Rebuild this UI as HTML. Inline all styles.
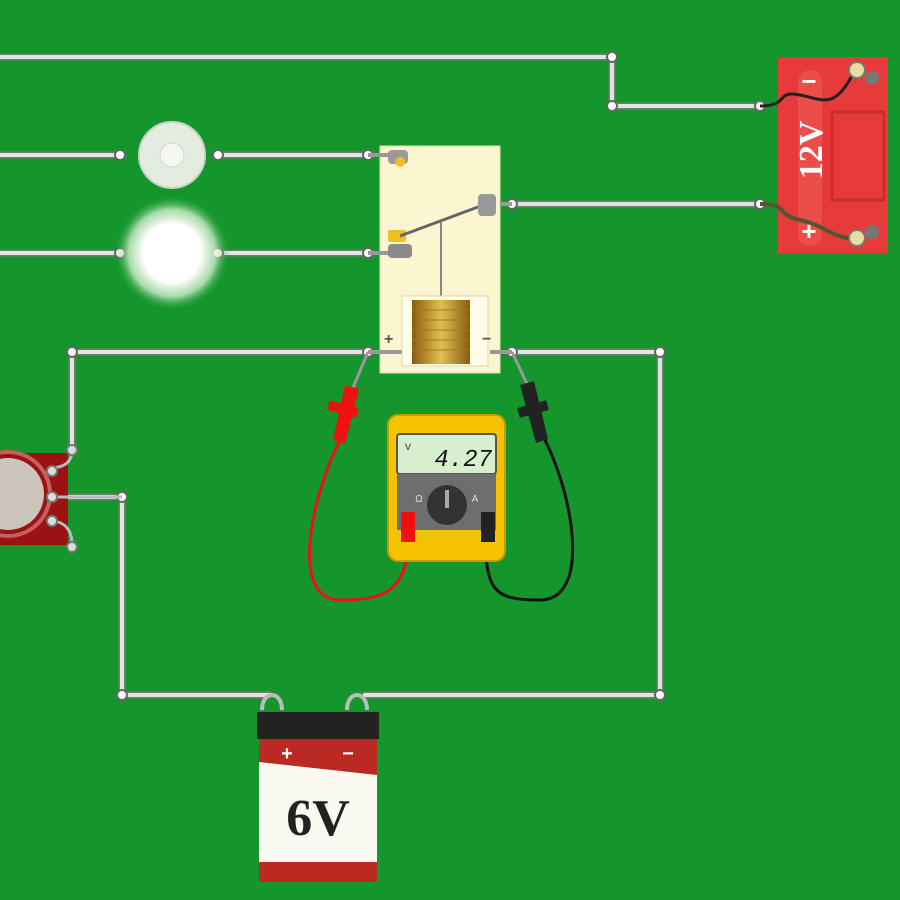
<!DOCTYPE html>
<html><head><meta charset="utf-8"><style>html,body{margin:0;padding:0;background:#14962c}svg{display:block}</style></head>
<body>
<svg width="900" height="900" viewBox="0 0 900 900" xmlns="http://www.w3.org/2000/svg">
<defs>
<radialGradient id="glow" cx="50%" cy="50%" r="50%">
<stop offset="0" stop-color="#fff"/><stop offset="0.5" stop-color="#fff"/><stop offset="0.75" stop-color="#e8f8e0" stop-opacity="0.7"/><stop offset="1" stop-color="#14962c" stop-opacity="0"/>
</radialGradient>
<linearGradient id="coil" x1="0" x2="1"><stop offset="0" stop-color="#8a5a10"/><stop offset="0.5" stop-color="#e0c050"/><stop offset="1" stop-color="#8a5a10"/></linearGradient>
</defs>
<rect width="900" height="900" fill="#14962c"/>
<g fill="none" stroke-linejoin="round" stroke-linecap="round">
<g stroke="#6f7f70" stroke-width="7">
<path d="M0 57H612V106H760"/>
<path d="M0 155H120M218 155H368"/>
<path d="M0 253H120M218 253H368"/>
<path d="M512 204H760"/>
<path d="M368 352H72V450"/>
<path d="M512 352H660V695H365"/>
<path d="M270 695H122V497H50"/>
</g>
<g stroke="#e2e4e2" stroke-width="4">
<path d="M0 57H612V106H760"/>
<path d="M0 155H120M218 155H368"/>
<path d="M0 253H120M218 253H368"/>
<path d="M512 204H760"/>
<path d="M368 352H72V450"/>
<path d="M512 352H660V695H365"/>
<path d="M270 695H122V497H50"/>
</g>
</g>
<g fill="#fff" stroke="#666" stroke-width="2">
<circle cx="612" cy="57" r="5"/><circle cx="612" cy="106" r="5"/><circle cx="760" cy="106" r="5"/><circle cx="760" cy="204" r="5"/>
<circle cx="120" cy="155" r="5"/><circle cx="218" cy="155" r="5"/><circle cx="368" cy="155" r="5"/>
<circle cx="120" cy="253" r="5"/><circle cx="218" cy="253" r="5"/><circle cx="368" cy="253" r="5"/>
<circle cx="72" cy="352" r="5"/><circle cx="660" cy="352" r="5"/><circle cx="660" cy="695" r="5"/><circle cx="122" cy="695" r="5"/><circle cx="122" cy="497" r="5"/>
<circle cx="512" cy="204" r="5"/><circle cx="368" cy="352" r="5"/><circle cx="512" cy="352" r="5"/>
</g>
<!-- lamps -->
<circle cx="172" cy="155" r="33" fill="#e4ecdf" stroke="#c8d4c4" stroke-width="2"/>
<circle cx="172" cy="155" r="12" fill="#f4f6f2" stroke="#cfd8cc"/>
<circle cx="172" cy="253" r="58" fill="url(#glow)"/>
<circle cx="172" cy="253" r="30" fill="#fff"/>
<!-- relay -->
<rect x="380" y="146" width="120" height="227" fill="#fbf6d0" stroke="#e2ddb0"/>
<path d="M368 155h22M368 253h22M368 352h42M490 352h22M500 204h12" stroke="#999" stroke-width="4"/>
<rect x="388" y="150" width="20" height="14" rx="4" fill="#9a9a9a"/><circle cx="400" cy="162" r="5" fill="#f0c020"/>
<rect x="388" y="244" width="24" height="14" rx="4" fill="#8a8a8a"/><rect x="388" y="230" width="18" height="12" rx="2" fill="#f0c020"/>
<path d="M400 236L486 204" stroke="#666" stroke-width="3"/>
<path d="M441 222V300" stroke="#888" stroke-width="2"/>
<rect x="478" y="194" width="18" height="22" rx="4" fill="#999"/>
<rect x="402" y="296" width="86" height="70" fill="#fffce8" stroke="#ddd7a8"/>
<rect x="412" y="300" width="58" height="64" fill="url(#coil)"/>
<g stroke="#a07a20" stroke-width="1"><path d="M412 310h58M412 320h58M412 330h58M412 340h58M412 350h58"/></g>
<text x="384" y="344" font-family="Liberation Sans,sans-serif" font-size="16" font-weight="bold" fill="#555">+</text>
<text x="482" y="344" font-family="Liberation Sans,sans-serif" font-size="16" font-weight="bold" fill="#555">−</text>
<!-- 12V battery -->
<rect x="778" y="57" width="110" height="196" fill="#e63b3a"/>
<rect x="832" y="112" width="52" height="88" fill="none" stroke="#c92c2c" stroke-width="3"/>
<rect x="798" y="70" width="24" height="176" rx="12" fill="#ea4d4a"/>
<text transform="translate(822 150) rotate(-90)" text-anchor="middle" font-family="Liberation Serif,serif" font-size="34" font-weight="bold" fill="#fff">12V</text>
<text x="809" y="90" text-anchor="middle" font-family="Liberation Sans,sans-serif" font-size="26" font-weight="bold" fill="#fff">−</text>
<text x="809" y="240" text-anchor="middle" font-family="Liberation Sans,sans-serif" font-size="26" font-weight="bold" fill="#fff">+</text>
<path d="M760 106C790 106 775 90 800 95S835 110 855 70" stroke="#222" stroke-width="3" fill="none"/>
<path d="M760 204C790 204 775 215 800 220S835 240 855 238" stroke="#553" stroke-width="4" fill="none"/>
<circle cx="857" cy="70" r="8" fill="#e8dca0" stroke="#777" stroke-width="2"/><circle cx="872" cy="78" r="7" fill="#777"/>
<circle cx="857" cy="238" r="8" fill="#e8dca0" stroke="#777" stroke-width="2"/><circle cx="872" cy="232" r="7" fill="#777"/>
<!-- sensor -->
<rect x="0" y="453" width="68" height="92" fill="#9c1212"/>
<circle cx="8" cy="494" r="42" fill="none" stroke="#c46060" stroke-width="4"/>
<circle cx="8" cy="494" r="36" fill="#cbc4ba"/>
<path d="M50 468C60 468 72 465 72 450M50 521C60 521 72 525 72 545M50 497H122" stroke="#bbb" stroke-width="3" fill="none"/>
<g fill="#ddd" stroke="#777" stroke-width="2"><circle cx="52" cy="471" r="5"/><circle cx="52" cy="497" r="5"/><circle cx="52" cy="521" r="5"/><circle cx="72" cy="450" r="5"/><circle cx="72" cy="547" r="5"/></g>
<!-- 6V battery -->
<path d="M262 710C262 690 282 690 282 710M347 710C347 690 367 690 367 710" stroke="#bbb" stroke-width="4" fill="none"/>
<rect x="259" y="738" width="118" height="144" fill="#fbfaf2"/>
<path d="M259 738H377V775L259 762Z" fill="#bb2a22"/>
<rect x="259" y="862" width="118" height="20" fill="#bb2a22"/>
<rect x="257" y="712" width="122" height="27" fill="#222"/>
<text x="287" y="760" text-anchor="middle" font-family="Liberation Sans,sans-serif" font-size="20" font-weight="bold" fill="#fff">+</text>
<text x="348" y="760" text-anchor="middle" font-family="Liberation Sans,sans-serif" font-size="20" font-weight="bold" fill="#fff">−</text>
<text x="318" y="835" text-anchor="middle" font-family="Liberation Serif,serif" font-size="52" font-weight="bold" fill="#222">6V</text>
<!-- probes & leads -->
<path d="M340 440C310 500 290 600 340 600S410 590 410 520" stroke="#e11" stroke-width="3" fill="none"/>
<path d="M545 440C575 500 590 600 540 600S485 590 485 520" stroke="#111" stroke-width="3" fill="none"/>
<path d="M368 352L352 390M512 352L530 390" stroke="#999" stroke-width="3"/>
<path d="M345 385l14 4-14 55-12-4z" fill="#e11"/><rect x="328" y="404" width="30" height="10" fill="#e11" transform="rotate(15 343 409)"/>
<path d="M520 385l14-4 14 58-12 4z" fill="#222"/><rect x="518" y="404" width="30" height="10" fill="#222" transform="rotate(-15 533 409)"/>
<!-- multimeter -->
<rect x="388" y="415" width="117" height="146" rx="10" fill="#f4c300" stroke="#c99a00" stroke-width="2"/>
<rect x="397" y="434" width="99" height="40" rx="3" fill="#d8efcf" stroke="#555" stroke-width="2"/>
<text x="405" y="450" font-family="Liberation Sans,sans-serif" font-size="9" fill="#222">V</text>
<text x="492" y="466" text-anchor="end" font-family="Liberation Mono,monospace" font-size="24" font-style="italic" fill="#111">4.27</text>
<rect x="397" y="474" width="99" height="56" fill="#6e6e6e"/>
<circle cx="447" cy="505" r="20" fill="#333"/><rect x="445" y="490" width="4" height="18" fill="#aaa"/>
<text x="419" y="502" text-anchor="middle" font-family="Liberation Sans,sans-serif" font-size="10" fill="#ddd">Ω</text>
<text x="475" y="502" text-anchor="middle" font-family="Liberation Sans,sans-serif" font-size="10" fill="#ddd">A</text>
<rect x="401" y="512" width="14" height="30" fill="#e11"/>
<rect x="481" y="512" width="14" height="30" fill="#222"/>
</svg>
</body></html>
